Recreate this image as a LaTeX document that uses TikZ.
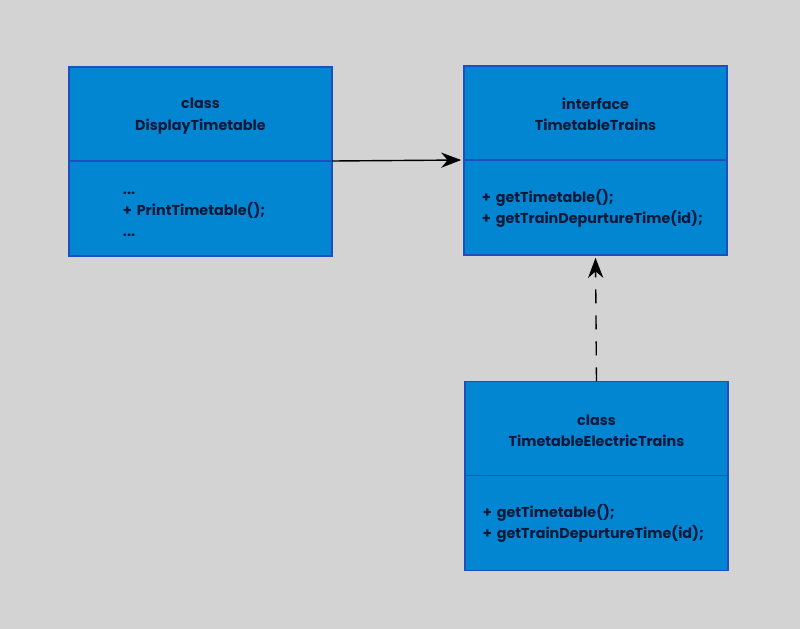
\documentclass[tikz,border=0pt]{standalone}
\usepackage{fontspec}
\setmainfont{Poppins}
\usepackage{xcolor}
\usepackage{tikz}
\usetikzlibrary{arrows.meta, positioning}
\definecolor{cPage}{HTML}{D3D3D3}
\definecolor{cBox}{HTML}{0386D1}
\definecolor{cEdge}{HTML}{1F4FBF}
\definecolor{cInk}{HTML}{0B1A3C}
\tikzset{
  uhead/.style={rectangle, draw=cEdge, line width=1.2pt, fill=cBox, outer sep=0pt,
    align=center, minimum width=6.575cm, minimum height=2.35cm, text=cInk},
  ubody/.style={rectangle, draw=cEdge, line width=1.2pt, fill=cBox, outer sep=0pt,
    align=left, minimum width=6.575cm, minimum height=2.375cm, text=cInk,
    inner xsep=#1, text width=6.575cm-2*#1},
  ubody/.default=0.45cm,
  link/.style={-{Stealth[length=5mm, width=3.8mm]}, draw=black, line width=1pt},
}
\newcommand{\uml}{\bfseries\fontsize{10.2}{15}\selectfont}

\begin{document}
\begin{tikzpicture}[x=0.025cm, y=-0.025cm, font=\uml]
\fill[cPage] (0,0) rectangle (800,629);
\useasboundingbox (0,0) rectangle (800,629);
% display class
\node[uhead] (dispHead) at (200.5,114) {\strut class\\ DisplayTimetable};
\node[ubody=1.35cm, below=0pt of dispHead] (dispBody) {\strut...\\ +~PrintTimetable();\\ ...};
% interface
\node[uhead] (ifHead) at (595.5,113) {\strut interface\\ TimetableTrains};
\node[ubody, below=0pt of ifHead] (ifBody) {\strut+~getTimetable();\\ +~getTrainDepurtureTime(id);};
% electric trains class
\node[uhead] (elHead) at (596.5,428.5) {\strut class\\ TimetableElectricTrains};
\node[ubody, below=0pt of elHead] (elBody) {\strut+~getTimetable();\\ +~getTrainDepurtureTime(id);};
\draw[link] (dispHead.south east) -- ([xshift=-2pt]ifHead.south west);
\draw[link, dash pattern=on 0.35cm off 0.3cm] (elHead.north) -- ([yshift=-2pt]ifBody.south);
\end{tikzpicture}
\end{document}
